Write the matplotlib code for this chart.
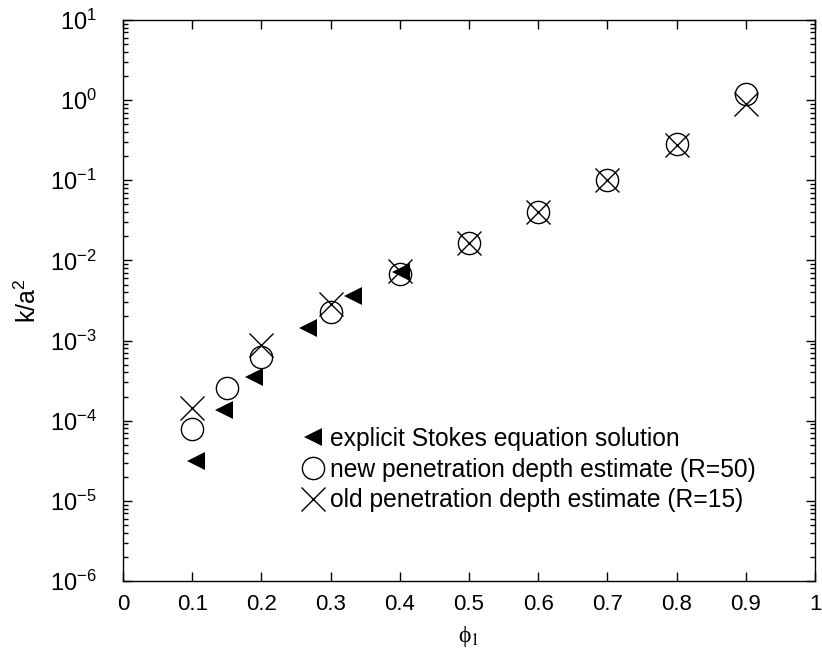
import matplotlib
matplotlib.use("Agg")
import matplotlib.pyplot as plt
from matplotlib.lines import Line2D

# ---- data ----
x_stokes = [0.106, 0.146, 0.189, 0.268, 0.333, 0.402]
y_stokes = [3.16e-5, 1.36e-4, 3.55e-4, 1.43e-3, 3.58e-3, 7.2e-3]

x_new = [0.1, 0.15, 0.2, 0.3, 0.4, 0.5, 0.6, 0.7, 0.8, 0.9]
y_new = [7.9e-5, 2.57e-4, 6.3e-4, 2.26e-3, 6.8e-3, 1.65e-2, 4.0e-2, 1.02e-1, 2.8e-1, 1.19]

x_old = [0.1, 0.2, 0.3, 0.4, 0.5, 0.6, 0.7, 0.8, 0.9]
y_old = [1.44e-4, 8.7e-4, 2.9e-3, 7.4e-3, 1.65e-2, 4.0e-2, 1.02e-1, 2.75e-1, 0.89]

x_ticks = [0, 0.1, 0.2, 0.3, 0.4, 0.5, 0.6, 0.7, 0.8, 0.9, 1]
x_ticklabels = ["0", "0.1", "0.2", "0.3", "0.4", "0.5", "0.6", "0.7", "0.8", "0.9", "1"]
y_exponents = [-6, -5, -4, -3, -2, -1, 0, 1]

labels = ["explicit Stokes equation solution",
          "new penetration depth estimate (R=50)",
          "old penetration depth estimate (R=15)"]

plt.rcParams['font.family'] = ['Liberation Sans', 'DejaVu Sans']
plt.rcParams['mathtext.fontset'] = 'custom'
plt.rcParams['mathtext.rm'] = 'Liberation Sans'
plt.rcParams['mathtext.it'] = 'Liberation Sans:italic'
plt.rcParams['mathtext.bf'] = 'Liberation Sans:bold'

fig = plt.figure(figsize=(8.22, 6.56), dpi=100)
ax = fig.add_axes([123/822, 75/656, 692/822, 561/656])

ax.plot(x_new, y_new, linestyle='none', marker='o', markersize=16,
        markerfacecolor='none', markeredgecolor='black', markeredgewidth=1.0, zorder=3)
ax.plot(x_old, y_old, linestyle='none', marker='x', markersize=17,
        color='black', markeredgewidth=1.0, zorder=4)
ax.plot(x_stokes, y_stokes, linestyle='none', marker='<', markersize=13,
        color='black', markeredgewidth=0, zorder=5)

ax.set_yscale('log')
ax.set_xlim(0, 1)
ax.set_ylim(1e-6, 1e1)

ax.set_xticks(x_ticks)
ax.set_xticklabels(x_ticklabels)
ax.xaxis.set_minor_locator(matplotlib.ticker.NullLocator())
ax.set_yticks([10.0**e for e in y_exponents])
ax.set_yticklabels([r'$10^{%d}$' % e for e in y_exponents])
ax.yaxis.set_minor_locator(matplotlib.ticker.LogLocator(base=10, subs=[2, 3, 4, 5, 6, 7, 8, 9], numticks=20))
ax.yaxis.set_minor_formatter(matplotlib.ticker.NullFormatter())

ax.tick_params(axis='both', which='both', direction='in', top=True, right=True, width=1.0)
ax.tick_params(axis='both', which='major', length=6.5)
ax.tick_params(axis='y', which='minor', length=3.3)
ax.tick_params(axis='x', which='major', labelsize=16, pad=9)
ax.tick_params(axis='y', which='major', labelsize=17, pad=19)

for s in ax.spines.values():
    s.set_linewidth(1.0)

ax.set_xlabel('\u03d5' + r'$_{\mathrm{1}}$', fontsize=17,
              family=['Liberation Serif', 'DejaVu Serif'], math_fontfamily='stix')
ax.xaxis.set_label_coords(0.5, -0.077)
ax.set_ylabel(r'k/a$^2$', fontsize=18)
ax.yaxis.set_label_coords(-0.118, 0.5)

handles = [
    Line2D([], [], linestyle='none', marker='<', markersize=13, color='black', markeredgewidth=0),
    Line2D([], [], linestyle='none', marker='o', markersize=16, markerfacecolor='none',
           markeredgecolor='black', markeredgewidth=1.0),
    Line2D([], [], linestyle='none', marker='x', markersize=17, color='black', markeredgewidth=1.0),
]
ax.legend(handles, labels, loc='upper left', bbox_to_anchor=(0.2572, 0.275),
          frameon=False, fontsize=17.7, handlelength=1.0, handletextpad=0.2,
          labelspacing=0.28, borderpad=0, borderaxespad=0)

fig.savefig('out.png', dpi=100)
